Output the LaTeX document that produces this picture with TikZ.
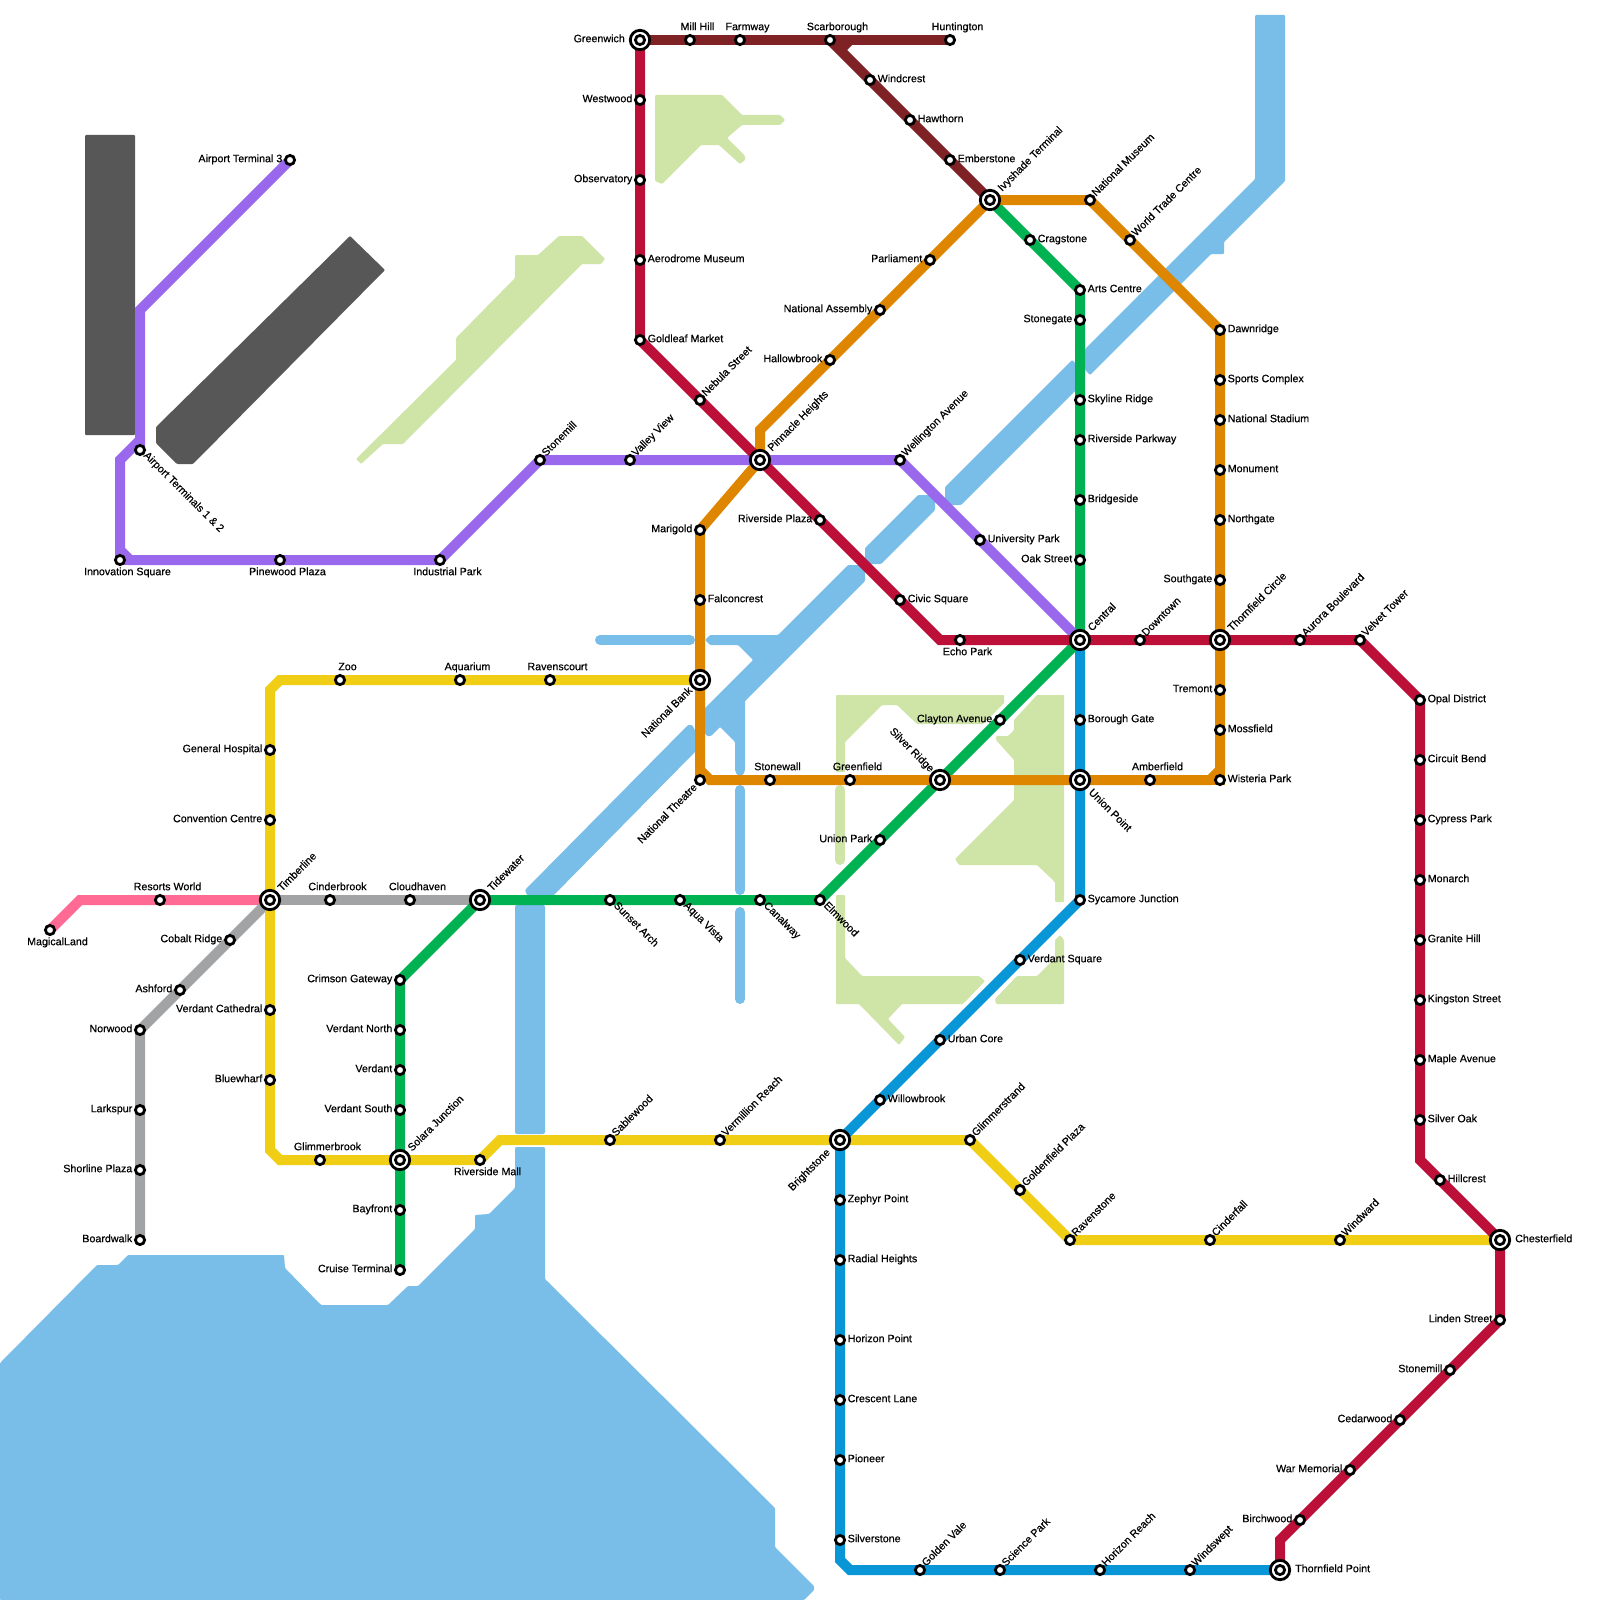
\documentclass[tikz,border=0pt]{standalone}
\usepackage{fontspec}
\setmainfont[FakeBold=0.4]{Liberation Sans}
\pgfdeclarelayer{back}
\pgfsetlayers{back,main}
\definecolor{water}{HTML}{79BDE9}
\definecolor{land}{HTML}{CFE4A7}
\definecolor{tarmac}{HTML}{575757}
\definecolor{cred}{HTML}{BD1038}
\definecolor{cbrown}{HTML}{7F2225}
\definecolor{cpurple}{HTML}{9A68EC}
\definecolor{corange}{HTML}{DF8600}
\definecolor{cgreen}{HTML}{00B251}
\definecolor{cblue}{HTML}{0896D7}
\definecolor{cyellow}{HTML}{F0CE15}
\definecolor{cgrey}{HTML}{A1A3A4}
\definecolor{cpink}{HTML}{FF6A95}
\tikzset{
 x=1pt,y=-1pt,
 stopdot/.style={circle,draw=black,fill=white,line width=2.8pt,minimum size=9.2pt,inner sep=0pt,outer sep=0pt},
 hubdot/.style={circle,draw=black,fill=white,line width=2.8pt,minimum size=19.4pt,inner sep=0pt,outer sep=0pt},
 lbl/.style={inner sep=0pt,text=black,font=\fontsize{10.7pt}{11pt}\selectfont,text height=7.6pt,text depth=2.2pt},
 lR/.style={anchor=west,xshift=7.5pt,yshift=0.5pt},
 lRh/.style={anchor=west,xshift=15pt,yshift=0.5pt},
 lL/.style={anchor=east,xshift=-7.5pt,yshift=0.5pt},
 lLh/.style={anchor=east,xshift=-15pt,yshift=0.5pt},
 lT/.style={anchor=center,xshift=7.5pt,yshift=12.5pt},
 lB/.style={anchor=center,xshift=7.5pt,yshift=-12.5pt},
 lU/.style={xshift=4pt,yshift=5pt,rotate=45,anchor=west},
 lUh/.style={xshift=10pt,yshift=10pt,rotate=45,anchor=west},
 lD/.style={xshift=5pt,yshift=-4pt,rotate=-45,anchor=west},
 lDh/.style={xshift=10pt,yshift=-11pt,rotate=-45,anchor=west},
 lDL/.style={xshift=-4pt,yshift=-6pt,rotate=45,anchor=east},
 lDLh/.style={xshift=-9pt,yshift=-9pt,rotate=45,anchor=east},
 lDLb/.style={xshift=-11pt,yshift=-11pt,rotate=45,anchor=east},
 lULh/.style={xshift=-8pt,yshift=9pt,rotate=-45,anchor=east},
 metro/.style={line width=10pt,line join=miter,draw=#1},
 waterfill/.style={fill=water,rounded corners=1pt},
 landfill/.style={fill=land,rounded corners=1pt},
 stream/.style={line width=10pt,line cap=round,draw=#1},
}
\newcommand{\stnode}[5]{%
 \coordinate (#1) at (#2,#3);
 \node[stopdot] (#1-s) at (#1) {};
 \node[lbl,#4] (#1-l) at (#1) {#5};
}
\newcommand{\hubnode}[5]{%
 \coordinate (#1) at (#2,#3);
 \node[hubdot] (#1-o) at (#1) {};
 \node[stopdot] (#1-s) at (#1) {};
 \node[lbl,#4] (#1-l) at (#1) {#5};
}
\begin{document}
\begin{tikzpicture}
\useasboundingbox (0,0) rectangle (1600,1600);
\hubnode{greenwich}{640}{40}{lLh}{Greenwich}
\stnode{millhill}{690}{40}{lT}{Mill Hill}
\stnode{farmway}{740}{40}{lT}{Farmway}
\stnode{scarborough}{830}{40}{lT}{Scarborough}
\stnode{huntington}{950}{40}{lT}{Huntington}
\stnode{windcrest}{870}{80}{lR}{Windcrest}
\stnode{hawthorn}{910}{120}{lR}{Hawthorn}
\stnode{emberstone}{950}{160}{lR}{Emberstone}
\hubnode{ivyshade}{990}{200}{lUh}{Ivyshade Terminal}
\stnode{westwood}{640}{100}{lL}{Westwood}
\stnode{observatory}{640}{180}{lL}{Observatory}
\stnode{aerodrome}{640}{260}{lR}{Aerodrome Museum}
\stnode{goldleaf}{640}{340}{lR}{Goldleaf Market}
\stnode{nebula}{700}{400}{lU}{Nebula Street}
\hubnode{pinnacle}{760}{460}{lUh}{Pinnacle Heights}
\stnode{riversideplaza}{820}{520}{lL}{Riverside Plaza}
\stnode{civic}{900}{600}{lR}{Civic Square}
\stnode{echo}{960}{640}{lB}{Echo Park}
\hubnode{central}{1080}{640}{lUh}{Central}
\stnode{downtown}{1140}{640}{lU}{Downtown}
\hubnode{thornfieldc}{1220}{640}{lUh}{Thornfield Circle}
\stnode{aurora}{1300}{640}{lU}{Aurora Boulevard}
\stnode{velvet}{1360}{640}{lU}{Velvet Tower}
\stnode{opal}{1420}{700}{lR}{Opal District}
\stnode{circuit}{1420}{760}{lR}{Circuit Bend}
\stnode{cypress}{1420}{820}{lR}{Cypress Park}
\stnode{monarch}{1420}{880}{lR}{Monarch}
\stnode{granite}{1420}{940}{lR}{Granite Hill}
\stnode{kingston}{1420}{1000}{lR}{Kingston Street}
\stnode{maple}{1420}{1060}{lR}{Maple Avenue}
\stnode{silveroak}{1420}{1120}{lR}{Silver Oak}
\stnode{hillcrest}{1440}{1180}{lR}{Hillcrest}
\hubnode{chesterfield}{1500}{1240}{lRh}{Chesterfield}
\stnode{linden}{1500}{1320}{lL}{Linden Street}
\stnode{stonemillb}{1450}{1370}{lL}{Stonemill}
\stnode{cedarwood}{1400}{1420}{lL}{Cedarwood}
\stnode{warmemorial}{1350}{1470}{lL}{War Memorial}
\stnode{birchwood}{1300}{1520}{lL}{Birchwood}
\hubnode{thornfieldp}{1280}{1570}{lRh}{Thornfield Point}
\stnode{at3}{290}{160}{lL}{Airport Terminal 3}
\stnode{at12}{140}{450}{lD}{Airport Terminals 1 \& 2}
\stnode{innovation}{120}{560}{lB}{Innovation Square}
\stnode{pinewood}{280}{560}{lB}{Pinewood Plaza}
\stnode{industrial}{440}{560}{lB}{Industrial Park}
\stnode{stonemill}{540}{460}{lU}{Stonemill}
\stnode{valleyview}{630}{460}{lU}{Valley View}
\stnode{wellington}{900}{460}{lU}{Wellington Avenue}
\stnode{university}{980}{540}{lR}{University Park}
\stnode{parliament}{930}{260}{lL}{Parliament}
\stnode{natassembly}{880}{310}{lL}{National Assembly}
\stnode{hallowbrook}{830}{360}{lL}{Hallowbrook}
\stnode{marigold}{700}{530}{lL}{Marigold}
\stnode{falconcrest}{700}{600}{lR}{Falconcrest}
\hubnode{natbank}{700}{680}{lDLh}{National Bank}
\stnode{nattheatre}{700}{780}{lDL}{National Theatre}
\stnode{stonewall}{770}{780}{lT}{Stonewall}
\stnode{greenfield}{850}{780}{lT}{Greenfield}
\hubnode{silverridge}{940}{780}{lULh}{Silver Ridge}
\hubnode{unionpoint}{1080}{780}{lDh}{Union Point}
\stnode{amberfield}{1150}{780}{lT}{Amberfield}
\stnode{wisteria}{1220}{780}{lR}{Wisteria Park}
\stnode{mossfield}{1220}{730}{lR}{Mossfield}
\stnode{tremont}{1220}{690}{lL}{Tremont}
\stnode{southgate}{1220}{580}{lL}{Southgate}
\stnode{northgate}{1220}{520}{lR}{Northgate}
\stnode{monument}{1220}{470}{lR}{Monument}
\stnode{natstadium}{1220}{420}{lR}{National Stadium}
\stnode{sports}{1220}{380}{lR}{Sports Complex}
\stnode{dawnridge}{1220}{330}{lR}{Dawnridge}
\stnode{wtc}{1130}{240}{lU}{World Trade Centre}
\stnode{natmuseum}{1090}{200}{lU}{National Museum}
\stnode{cragstone}{1030}{240}{lR}{Cragstone}
\stnode{arts}{1080}{290}{lR}{Arts Centre}
\stnode{stonegate}{1080}{320}{lL}{Stonegate}
\stnode{skyline}{1080}{400}{lR}{Skyline Ridge}
\stnode{riverpark}{1080}{440}{lR}{Riverside Parkway}
\stnode{bridgeside}{1080}{500}{lR}{Bridgeside}
\stnode{oak}{1080}{560}{lL}{Oak Street}
\stnode{clayton}{1000}{720}{lL}{Clayton Avenue}
\stnode{unionpark}{880}{840}{lL}{Union Park}
\stnode{elmwood}{820}{900}{lD}{Elmwood}
\stnode{canalway}{760}{900}{lD}{Canalway}
\stnode{aqua}{680}{900}{lD}{Aqua Vista}
\stnode{sunset}{610}{900}{lD}{Sunset Arch}
\hubnode{tidewater}{480}{900}{lUh}{Tidewater}
\stnode{crimson}{400}{980}{lL}{Crimson Gateway}
\stnode{verdantn}{400}{1030}{lL}{Verdant North}
\stnode{verdant}{400}{1070}{lL}{Verdant}
\stnode{verdants}{400}{1110}{lL}{Verdant South}
\hubnode{solara}{400}{1160}{lUh}{Solara Junction}
\stnode{bayfront}{400}{1210}{lL}{Bayfront}
\stnode{cruise}{400}{1270}{lL}{Cruise Terminal}
\stnode{borough}{1080}{720}{lR}{Borough Gate}
\stnode{sycamore}{1080}{900}{lR}{Sycamore Junction}
\stnode{verdantsq}{1020}{960}{lR}{Verdant Square}
\stnode{urban}{940}{1040}{lR}{Urban Core}
\stnode{willowbrook}{880}{1100}{lR}{Willowbrook}
\hubnode{brightstone}{840}{1140}{lDLb}{Brightstone}
\stnode{zephyr}{840}{1200}{lR}{Zephyr Point}
\stnode{radial}{840}{1260}{lR}{Radial Heights}
\stnode{horizonp}{840}{1340}{lR}{Horizon Point}
\stnode{crescent}{840}{1400}{lR}{Crescent Lane}
\stnode{pioneer}{840}{1460}{lR}{Pioneer}
\stnode{silverstone}{840}{1540}{lR}{Silverstone}
\stnode{goldenvale}{920}{1570}{lU}{Golden Vale}
\stnode{science}{1000}{1570}{lU}{Science Park}
\stnode{horizonr}{1100}{1570}{lU}{Horizon Reach}
\stnode{windswept}{1190}{1570}{lU}{Windswept}
\stnode{ravenscourt}{550}{680}{lT}{Ravenscourt}
\stnode{aquarium}{460}{680}{lT}{Aquarium}
\stnode{zoo}{340}{680}{lT}{Zoo}
\stnode{general}{270}{750}{lL}{General Hospital}
\stnode{convention}{270}{820}{lL}{Convention Centre}
\hubnode{timberline}{270}{900}{lUh}{Timberline}
\stnode{cathedral}{270}{1010}{lL}{Verdant Cathedral}
\stnode{bluewharf}{270}{1080}{lL}{Bluewharf}
\stnode{glimmerbrook}{320}{1160}{lT}{Glimmerbrook}
\stnode{rivermall}{480}{1160}{lB}{Riverside Mall}
\stnode{sablewood}{610}{1140}{lU}{Sablewood}
\stnode{vermillion}{720}{1140}{lU}{Vermillion Reach}
\stnode{glimmerstrand}{970}{1140}{lU}{Glimmerstrand}
\stnode{goldenfield}{1020}{1190}{lU}{Goldenfield Plaza}
\stnode{ravenstone}{1070}{1240}{lU}{Ravenstone}
\stnode{cinderfall}{1210}{1240}{lU}{Cinderfall}
\stnode{windward}{1340}{1240}{lU}{Windward}
\stnode{cinderbrook}{330}{900}{lT}{Cinderbrook}
\stnode{cloudhaven}{410}{900}{lT}{Cloudhaven}
\stnode{cobalt}{230}{940}{lL}{Cobalt Ridge}
\stnode{ashford}{180}{990}{lL}{Ashford}
\stnode{norwood}{140}{1030}{lL}{Norwood}
\stnode{larkspur}{140}{1110}{lL}{Larkspur}
\stnode{shorline}{140}{1170}{lL}{Shorline Plaza}
\stnode{boardwalk}{140}{1240}{lL}{Boardwalk}
\stnode{magical}{50}{930}{lB}{MagicalLand}
\stnode{resorts}{160}{900}{lT}{Resorts World}
% bends
\coordinate (bBrownA) at (850,40);
\coordinate (bBrownB) at (840,50);
\coordinate (bRedA) at (940,640);
\coordinate (bRedB) at (1420,1160);
\coordinate (bRedC) at (1280,1540);
\coordinate (bPurA) at (140,310);
\coordinate (bPurB) at (140,440);
\coordinate (bPurC) at (120,460);
\coordinate (bPurD) at (120,550);
\coordinate (bPurE) at (130,560);
\coordinate (bOrA) at (760,430);
\coordinate (bOrB) at (700,770);
\coordinate (bOrC) at (710,780);
\coordinate (bOrD) at (1210,780);
\coordinate (bOrE) at (1220,770);
\coordinate (bBluA) at (840,1560);
\coordinate (bBluB) at (850,1570);
\coordinate (bYelA) at (280,680);
\coordinate (bYelB) at (270,690);
\coordinate (bYelC) at (270,1150);
\coordinate (bYelD) at (280,1160);
\coordinate (bYelE) at (500,1140);
\coordinate (bPinkA) at (80,900);
\begin{pgfonlayer}{back}
\fill[white] (0,0) rectangle (1600,1600);
% sea
\path[waterfill] (515,1147) -- (545,1147) -- (545,1279) -- (775,1508) -- (775,1547) -- (814,1586) -- (814,1590) -- (804,1600) -- (0,1600) -- (0,1363) -- (97,1265) -- (118,1265) -- (128,1255) -- (284,1255) -- (285,1268) -- (321,1305) -- (388,1305) -- (408,1286) -- (418,1286) -- (475,1229) -- (475,1215) -- (489,1214) -- (515,1188) -- cycle;
\path[fill=water,rounded corners=2pt] (515,905) rectangle (545,1134);
% river
\path[waterfill] (1255,15) -- (1285,15) -- (1285,181) -- (1224,242) -- (1224,254) -- (1211,254) -- (1090,375) -- (1085,370) -- (1085,349) -- (1255,179) -- cycle;
\path[waterfill] (945,487) -- (1072,360) -- (1080,368) -- (1080,386) -- (961,505) -- (945,505) -- cycle;
\path[waterfill] (865,548) -- (918,495) -- (930,495) -- (935,500) -- (935,510) -- (881,564) -- (865,564) -- cycle;
\path[waterfill] (848,565) -- (860,565) -- (865,570) -- (865,581) -- (745,701) -- (745,770) -- (743,775) -- (737,775) -- (735,770) -- (735,742) -- (720,727) -- (711,736) -- (707,736) -- (704,732) -- (704,709) -- (753,660) -- (738,645) -- (710,645) -- (705,640) -- (710,635) -- (778,635) -- cycle;
\path[waterfill] (525,890) -- (688,725) -- (692,725) -- (695,730) -- (695,752) -- (547,902) -- (530,902) -- cycle;
\draw[stream=water] (600,640) -- (690,640);
\draw[stream=water] (740,790) -- (740,890);
\draw[stream=water] (740,912) -- (740,999);
% land
\path[landfill] (655,95) -- (722,95) -- (742,115) -- (780,115) -- (785,120) -- (780,125) -- (742,125) -- (727,138) -- (745,156) -- (745,160) -- (740,164) -- (719,145) -- (701,145) -- (662,184) -- (655,181) -- cycle;
\path[landfill] (515,255) -- (538,255) -- (559,236) -- (582,236) -- (605,259) -- (601,264) -- (582,264) -- (403,444) -- (383,444) -- (361,464) -- (356,459) -- (456,360) -- (456,338) -- (515,278) -- cycle;
\path[landfill] (836,695) -- (1004,695) -- (1004,703) -- (983,724) -- (917,724) -- (897,705) -- (882,705) -- (845,742) -- (845,772) -- (836,772) -- cycle;
\path[landfill] (1037,695) -- (1064,695) -- (1064,902) -- (1055,902) -- (1055,882) -- (1037,865) -- (959,865) -- (955,859) -- (1014,800) -- (1014,760) -- (996,740) -- (996,736) -- (1008,736) -- (1014,730) -- (1014,720) -- cycle;
\path[landfill] (836,895) -- (845,895) -- (845,958) -- (862,976) -- (979,976) -- (985,981) -- (963,1004) -- (902,1004) -- (888,1019) -- (905,1037) -- (899,1045) -- (859,1004) -- (836,1004) -- cycle;
\path[landfill] (1060,935) -- (1064,940) -- (1064,1004) -- (996,1004) -- (995,999) -- (1017,976) -- (1037,976) -- (1055,958) -- (1055,940) -- cycle;
\draw[stream=land] (840,790) -- (840,860);
% tarmac
\path[fill=tarmac,rounded corners=1pt] (85,135) rectangle (135,435);
\path[fill=tarmac,rounded corners=1pt] (350,236) -- (385,270) -- (193,464) -- (177,464) -- (156,443) -- (156,427) -- cycle;
% lines
\draw[metro=cpink] (magical) -- (bPinkA) -- (resorts) -- (timberline);
\draw[metro=cgrey] (timberline) -- (cinderbrook) -- (cloudhaven) -- (tidewater);
\draw[metro=cgrey] (timberline) -- (cobalt) -- (ashford) -- (norwood) -- (larkspur) -- (shorline) -- (boardwalk);
\draw[metro=cyellow] (natbank) -- (ravenscourt) -- (aquarium) -- (zoo) -- (bYelA) -- (bYelB) -- (general) -- (convention) -- (timberline) -- (cathedral) -- (bluewharf) -- (bYelC) -- (bYelD) -- (glimmerbrook) -- (solara) -- (rivermall) -- (bYelE) -- (sablewood) -- (vermillion) -- (brightstone) -- (glimmerstrand) -- (goldenfield) -- (ravenstone) -- (cinderfall) -- (windward) -- (chesterfield);
\draw[metro=cblue] (central) -- (borough) -- (unionpoint) -- (sycamore) -- (verdantsq) -- (urban) -- (willowbrook) -- (brightstone) -- (zephyr) -- (radial) -- (horizonp) -- (crescent) -- (pioneer) -- (silverstone) -- (bBluA) -- (bBluB) -- (goldenvale) -- (science) -- (horizonr) -- (windswept) -- (thornfieldp);
\draw[metro=cgreen] (ivyshade) -- (cragstone) -- (arts) -- (stonegate) -- (skyline) -- (riverpark) -- (bridgeside) -- (oak) -- (central) -- (clayton) -- (silverridge) -- (unionpark) -- (elmwood) -- (canalway) -- (aqua) -- (sunset) -- (tidewater) -- (crimson) -- (verdantn) -- (verdant) -- (verdants) -- (solara) -- (bayfront) -- (cruise);
\draw[metro=cpurple] (at3) -- (bPurA) -- (at12);
\draw[metro=cpurple] (bPurB) -- (bPurC) -- (bPurD) -- (bPurE) -- (pinewood) -- (industrial) -- (stonemill) -- (valleyview) -- (pinnacle) -- (wellington) -- (university) -- (central);
\draw[metro=cpurple] (bPurD) -- (innovation);
\draw[metro=cpurple] (innovation) -- (bPurE);
\draw[metro=corange] (ivyshade) -- (parliament) -- (natassembly) -- (hallowbrook) -- (bOrA) -- (pinnacle) -- (marigold) -- (falconcrest) -- (natbank) -- (bOrB) -- (bOrC) -- (stonewall) -- (greenfield) -- (silverridge) -- (unionpoint) -- (amberfield) -- (bOrD) -- (bOrE) -- (mossfield) -- (tremont) -- (thornfieldc) -- (southgate) -- (northgate) -- (monument) -- (natstadium) -- (sports) -- (dawnridge) -- (wtc) -- (natmuseum) -- (ivyshade);
\draw[metro=corange] (bOrB) -- (nattheatre);
\draw[metro=corange] (bOrD) -- (wisteria) -- (bOrE);
\draw[metro=cred] (greenwich) -- (westwood) -- (observatory) -- (aerodrome) -- (goldleaf) -- (nebula) -- (pinnacle) -- (riversideplaza) -- (civic) -- (bRedA) -- (echo) -- (central) -- (downtown) -- (thornfieldc) -- (aurora) -- (velvet) -- (opal) -- (circuit) -- (cypress) -- (monarch) -- (granite) -- (kingston) -- (maple) -- (silveroak) -- (bRedB) -- (hillcrest) -- (chesterfield) -- (linden) -- (stonemillb) -- (cedarwood) -- (warmemorial) -- (birchwood) -- (bRedC) -- (thornfieldp);
\draw[metro=cbrown] (greenwich) -- (millhill) -- (farmway) -- (scarborough) -- (huntington);
\draw[metro=cbrown] (scarborough) -- (windcrest) -- (hawthorn) -- (emberstone) -- (ivyshade);
\draw[metro=cbrown] (bBrownA) -- (bBrownB);
\end{pgfonlayer}
\end{tikzpicture}
\end{document}
